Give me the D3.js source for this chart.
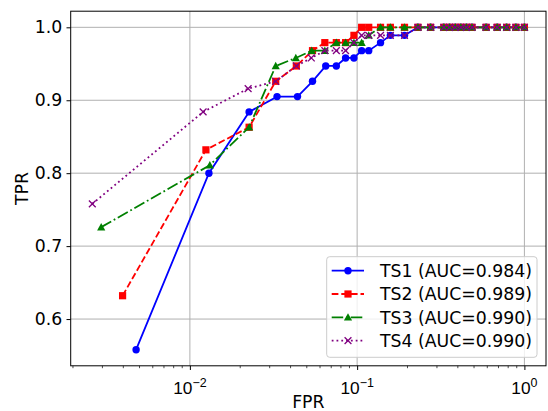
<!DOCTYPE html>
<html>
<head>
<meta charset="utf-8">
<script src="https://cdn.jsdelivr.net/npm/d3@7"></script>
<style>
  body { margin: 0; background: #fff; }
  svg { display: block; font-family: "DejaVu Sans", sans-serif; }
</style>
</head>
<body>
<div id="chart"></div>
<script>
// ROC points
const tail = [0.231, 0.275, 0.33, 0.357, 0.386, 0.417, 0.45, 0.486, 0.59, 0.687, 0.784, 0.89, 1.0]
const ones = [1, 1, 1, 1, 1, 1, 1, 1, 1, 1, 1, 1, 1]

const fpr1 = [0.00477, 0.0130, 0.0226, 0.0332, 0.0440, 0.0541, 0.0649, 0.0751, 0.0853, 0.0957, 0.1064, 0.1173, 0.138, 0.158, 0.192].concat(tail)
const tpr1 = [0.558, 0.800, 0.884, 0.905, 0.905, 0.926, 0.947, 0.947, 0.958, 0.958, 0.968, 0.968, 0.979, 0.989, 0.989].concat(ones)

const fpr2 = [0.00396, 0.01247, 0.0226, 0.0326, 0.0433, 0.0541, 0.0641, 0.0751, 0.0853, 0.0957, 0.1064, 0.1173, 0.138, 0.158, 0.192].concat(tail)
const tpr2 = [0.632, 0.832, 0.863, 0.926, 0.947, 0.968, 0.979, 0.979, 0.979, 0.989, 1, 1, 1, 1, 1].concat(ones)

const fpr3 = [0.00295, 0.01316, 0.0226, 0.0326, 0.0430, 0.0535, 0.0641, 0.0751, 0.0853, 0.0957, 0.1064, 0.1173, 0.138, 0.158, 0.192].concat(tail)
const tpr3 = [0.726, 0.811, 0.863, 0.947, 0.958, 0.968, 0.968, 0.979, 0.979, 0.979, 0.979, 0.989, 1, 1, 1].concat(ones)

const fpr4 = [0.00261, 0.0120, 0.0223, 0.0326, 0.0433, 0.0532, 0.0641, 0.0751, 0.0853, 0.0957, 0.1064, 0.1173, 0.138, 0.158, 0.192].concat(tail)
const tpr4 = [0.758, 0.884, 0.916, 0.926, 0.947, 0.958, 0.968, 0.968, 0.968, 0.979, 0.989, 0.989, 0.989, 0.989, 0.989].concat(ones)

const labels = ['TS1 (AUC=0.984)', 'TS2 (AUC=0.989)', 'TS3 (AUC=0.990)', 'TS4 (AUC=0.990)']
const yTicks = [0.6, 0.7, 0.8, 0.9, 1.0]
const xTicks = [0.01, 0.1, 1]
const xTickExp = ['\u22122', '\u22121', '0']

const series = [
  {fpr: fpr1, tpr: tpr1, color: 'blue', dash: null, marker: 'circle'},
  {fpr: fpr2, tpr: tpr2, color: 'red', dash: '6.7,2.9', marker: 'square'},
  {fpr: fpr3, tpr: tpr3, color: 'green', dash: '11.5,2.9,1.8,2.9', marker: 'triangle'},
  {fpr: fpr4, tpr: tpr4, color: 'purple', dash: '1.8,3', marker: 'x'}
]

const W = 548, H = 411
const m = {left: 70.7, right: 2, top: 11.2, bottom: 45.2}
const fs = 17.3

const svg = d3.select('#chart').append('svg').attr('width', W).attr('height', H)

// matplotlib-like autoscale: 5% margins (log space on x)
const allX = [].concat(fpr1, fpr2, fpr3, fpr4)
const allY = [].concat(tpr1, tpr2, tpr3, tpr4)
const lx0 = Math.log10(d3.min(allX)), lx1 = Math.log10(d3.max(allX))
const padX = (lx1 - lx0) * 0.05
const y0 = d3.min(allY), y1 = d3.max(allY)
const padY = (y1 - y0) * 0.05

const x = d3.scaleLog().domain([Math.pow(10, lx0 - padX), Math.pow(10, lx1 + padX)]).range([m.left, W - m.right])
const y = d3.scaleLinear().domain([y0 - padY, y1 + padY]).range([H - m.bottom, m.top])

// grid
svg.append('g').selectAll('line').data(xTicks).enter().append('line')
  .attr('x1', d => x(d)).attr('x2', d => x(d))
  .attr('y1', m.top).attr('y2', H - m.bottom)
  .attr('stroke', '#b0b0b0').attr('stroke-width', 1)
svg.append('g').selectAll('line').data(yTicks).enter().append('line')
  .attr('x1', m.left).attr('x2', W - m.right)
  .attr('y1', d => y(d)).attr('y2', d => y(d))
  .attr('stroke', '#b0b0b0').attr('stroke-width', 1)

// axes
const xAxis = d3.axisBottom(x).tickValues(xTicks).tickSize(4.2).tickPadding(4).tickFormat('')
const gx = svg.append('g').attr('transform', `translate(0,${H - m.bottom})`).call(xAxis)
const minor = []
for (let e = -3; e <= 0; e++) for (let k = 2; k <= 9; k++) {
  const v = k * Math.pow(10, e)
  if (v >= x.domain()[0] && v <= x.domain()[1]) minor.push(v)
}
gx.selectAll('.minor').data(minor).enter().append('line').attr('class', 'minor')
  .attr('x1', d => x(d)).attr('x2', d => x(d)).attr('y1', 0).attr('y2', 2.4)
  .attr('stroke', '#000').attr('stroke-width', 0.7)
gx.selectAll('.lab').data(xTicks).enter().append('text').attr('class', 'lab')
  .attr('x', d => x(d)).attr('y', 28)
  .attr('text-anchor', 'middle').attr('font-size', fs).attr('fill', '#000')
  .each(function(d, i) {
    const t = d3.select(this)
    t.append('tspan').text('10')
    t.append('tspan').attr('dy', -7).attr('font-size', fs * 0.72).text(xTickExp[i])
  })

const yAxis = d3.axisLeft(y).tickValues(yTicks).tickSize(4.2).tickPadding(4.2).tickFormat(d3.format('.1f'))
svg.append('g').attr('transform', `translate(${m.left},0)`).call(yAxis)
  .selectAll('text').attr('font-size', fs).attr('font-family', 'DejaVu Sans').attr('fill', '#000')

svg.selectAll('.domain').remove()
svg.selectAll('.tick line').attr('stroke', '#000').attr('stroke-width', 1)

// frame
svg.append('rect').attr('x', m.left).attr('y', m.top)
  .attr('width', W - m.right - m.left).attr('height', H - m.bottom - m.top)
  .attr('fill', 'none').attr('stroke', '#000').attr('stroke-width', 1)

function drawMarker(g, type, color, cx, cy) {
  if (type === 'circle') {
    g.append('circle').attr('cx', cx).attr('cy', cy).attr('r', 3.7).attr('fill', color)
  } else if (type === 'square') {
    g.append('rect').attr('x', cx - 3.6).attr('y', cy - 3.6).attr('width', 7.2).attr('height', 7.2).attr('fill', color)
  } else if (type === 'triangle') {
    const s = 4.1
    g.append('path').attr('d', `M${cx},${cy - s}L${cx + s},${cy + s * 0.8}L${cx - s},${cy + s * 0.8}Z`).attr('fill', color)
  } else {
    const s = 3.4
    g.append('path').attr('d', `M${cx - s},${cy - s}L${cx + s},${cy + s}M${cx - s},${cy + s}L${cx + s},${cy - s}`)
      .attr('stroke', color).attr('stroke-width', 1.3).attr('fill', 'none')
  }
}

const line = d3.line().x(d => x(d[0])).y(d => y(d[1]))
series.forEach(s => {
  const pts = s.fpr.map((f, i) => [f, s.tpr[i]])
  svg.append('path').datum(pts).attr('d', line)
    .attr('fill', 'none').attr('stroke', s.color).attr('stroke-width', 1.8)
    .attr('stroke-dasharray', s.dash)
  const g = svg.append('g')
  pts.forEach(p => drawMarker(g, s.marker, s.color, x(p[0]), y(p[1])))
})

// axis labels
svg.append('text').attr('x', (m.left + W - m.right) / 2).attr('y', 408)
  .attr('text-anchor', 'middle').attr('font-size', fs).text('FPR')
svg.append('text').attr('transform', `translate(28,${(m.top + H - m.bottom) / 2}) rotate(-90)`)
  .attr('text-anchor', 'middle').attr('font-size', fs).text('TPR')

// legend
const lg = svg.append('g')
lg.append('rect').attr('x', 326.7).attr('y', 256.7).attr('width', 210.3).attr('height', 100.6)
  .attr('rx', 3).attr('fill', 'rgba(255,255,255,0.8)').attr('stroke', '#cccccc').attr('stroke-width', 1)
series.forEach((s, i) => {
  const cy = 270.7 + i * 23.3
  lg.append('line').attr('x1', 331.7).attr('x2', 364).attr('y1', cy).attr('y2', cy)
    .attr('stroke', s.color).attr('stroke-width', 1.8).attr('stroke-dasharray', s.dash)
  drawMarker(lg, s.marker, s.color, 348, cy)
  lg.append('text').attr('x', 380).attr('y', cy).attr('dy', '0.36em')
    .attr('font-size', fs).text(labels[i])
})
</script>
</body>
</html>
